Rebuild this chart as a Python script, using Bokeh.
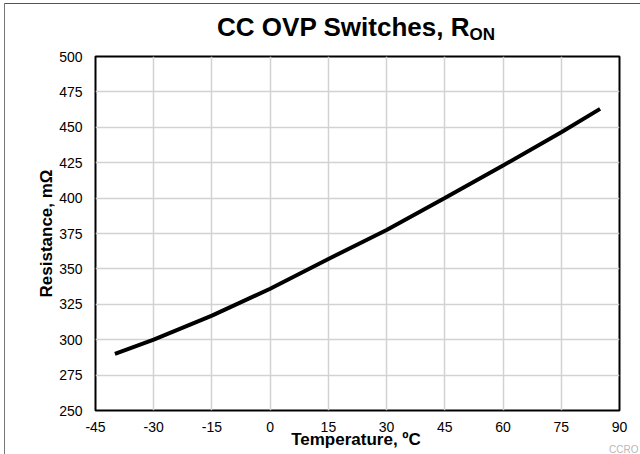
from bokeh.plotting import figure
from bokeh.models import FixedTicker, Range1d, Div
from bokeh.layouts import column
from bokeh.embed import file_html
from bokeh.resources import INLINE

# Data
temperature_c = [-40, -30, -15, 0, 15, 30, 45, 60, 75, 85]
resistance_mohm = [290, 300, 317, 336, 357, 377.5, 400, 423, 446.5, 463]
x_ticks = [-45, -30, -15, 0, 15, 30, 45, 60, 75, 90]
y_ticks = [250, 275, 300, 325, 350, 375, 400, 425, 450, 475, 500]

title_main = "CC OVP Switches, R"
title_sub = "ON"
x_title = "Temperature, \u00baC"
y_title = "Resistance, m\u03a9"
footer_code = "CCRO"

FONT = "Liberation Sans"

# Overlay with title (with subscript), x-axis title, footer code and page frame lines
overlay = Div(
    width=640, height=40, margin=(0, 0, 0, 0),
    text=(
        f'<div style="position:relative;width:640px;height:454px;overflow:hidden;'
        f'pointer-events:none;font-family:\'{FONT}\';">'
        '<span style="position:absolute;left:4px;top:3px;width:636px;height:1px;background:#555;"></span>'
        '<span style="position:absolute;left:4px;top:3px;width:1px;height:451px;background:#777;"></span>'
        '<span style="position:absolute;left:356px;top:12px;transform:translateX(-50%);'
        'white-space:nowrap;font-weight:bold;font-size:26px;line-height:normal;color:#000;">'
        f'{title_main}<span style="font-size:17px;position:relative;top:4px;">{title_sub}</span></span>'
        '<span style="position:absolute;left:356px;top:430px;transform:translateX(-50%);'
        'white-space:nowrap;font-weight:bold;font-size:17px;line-height:normal;color:#000;">'
        f'{x_title}</span>'
        '<span style="position:absolute;left:609px;top:444px;white-space:nowrap;'
        f'font-size:10px;line-height:normal;color:#b8b8b8;">{footer_code}</span>'
        '</div>'
    ),
)

p = figure(
    width=640, height=414, margin=(0, 0, 0, 0),
    output_backend="svg", toolbar_location=None,
    x_range=Range1d(-45, 90), y_range=Range1d(250, 500),
    min_border_left=95, min_border_right=21,
    min_border_top=16, min_border_bottom=44,
)
p.background_fill_color = "white"
p.border_fill_color = None
p.outline_line_color = "black"
p.outline_line_width = 2

p.line(temperature_c, resistance_mohm, line_color="black", line_width=4)

for ax in (p.xaxis, p.yaxis):
    ax.major_tick_line_color = None
    ax.minor_tick_line_color = None
    ax.axis_line_color = None
    ax.major_label_text_font = FONT
    ax.major_label_text_font_size = "14px"
    ax.major_label_text_color = "black"

p.xaxis.ticker = FixedTicker(ticks=x_ticks)
p.xaxis.major_label_overrides = {t: str(t) for t in x_ticks}
p.yaxis.ticker = FixedTicker(ticks=y_ticks)
p.xaxis.major_label_standoff = 5
p.yaxis.major_label_standoff = 7

p.yaxis.axis_label = y_title
p.yaxis.axis_label_text_font = FONT
p.yaxis.axis_label_text_font_size = "17px"
p.yaxis.axis_label_text_font_style = "bold"
p.yaxis.axis_label_text_color = "black"
p.yaxis.axis_label_standoff = 0

p.xgrid.ticker = FixedTicker(ticks=x_ticks)
p.ygrid.ticker = FixedTicker(ticks=y_ticks)
p.grid.grid_line_color = "#d2d2d2"
p.grid.grid_line_width = 1.5

layout = column(overlay, p, spacing=0, margin=(0, 0, 0, 0))
open("out.html", "w").write(file_html(layout, INLINE))
